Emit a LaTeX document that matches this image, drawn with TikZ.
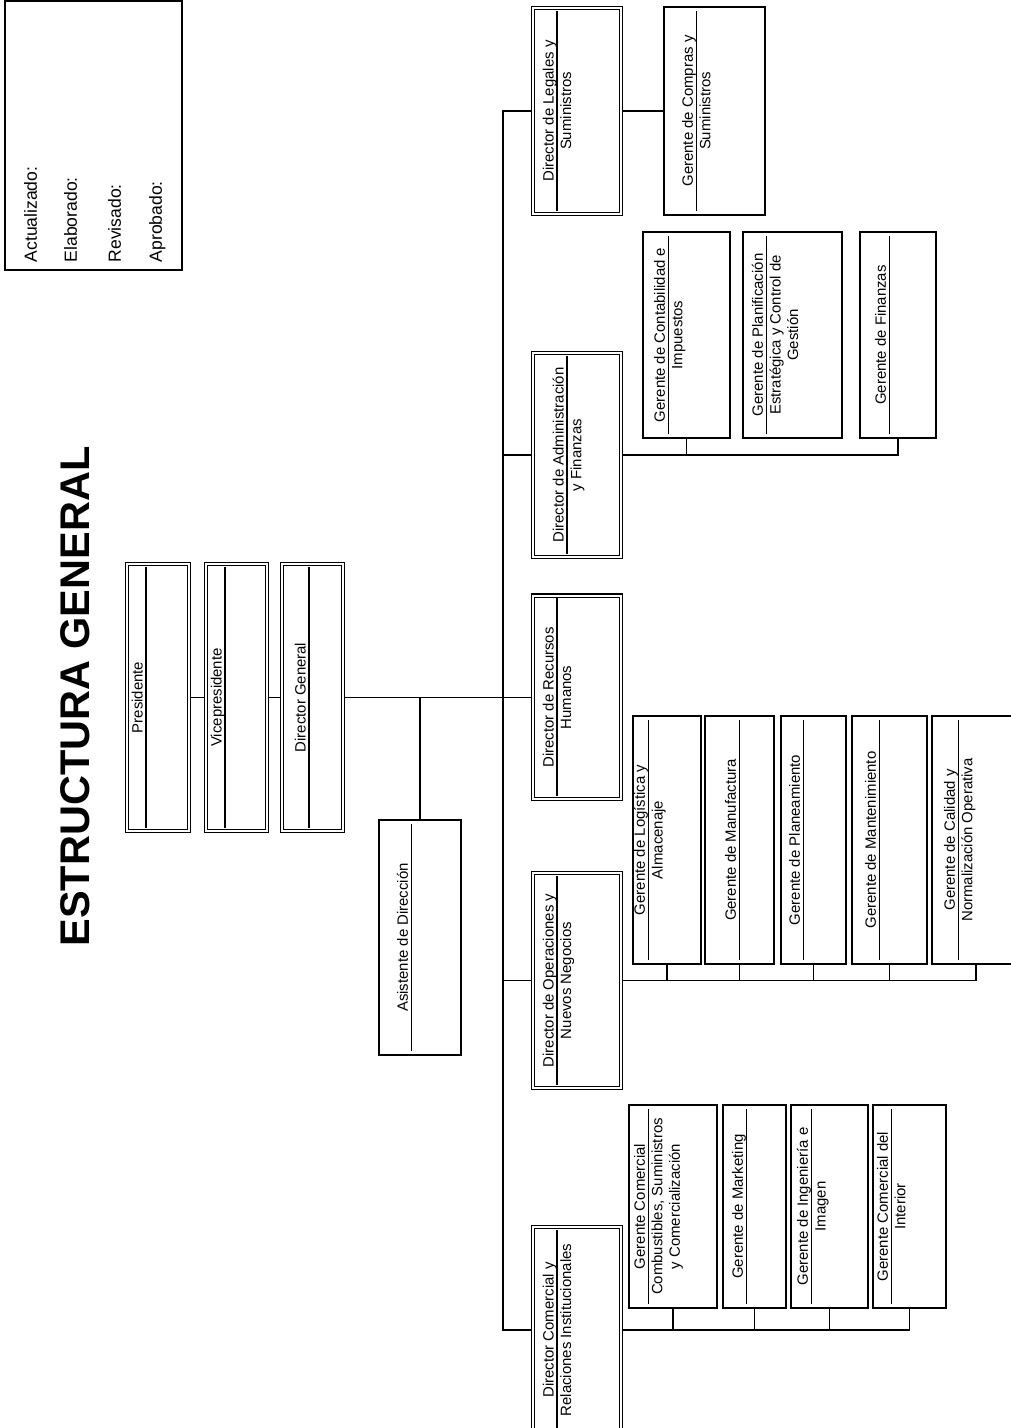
\documentclass[tikz,border=0pt]{standalone}
\usepackage{fontspec}
\setmainfont{Liberation Sans}

% caja de un puesto: estilo, nombre, posicion, ancho, alto, linea, texto
\newcommand{\puesto}[7][gerente]{%
  \node[#1, minimum width=#4*0.02cm, minimum height=#5*0.02cm] (#2) at (#3) {};
  \draw ([xshift=5*0.02cm, yshift=-#6*0.02cm]#2.north west)
    -- ([xshift=-5*0.02cm, yshift=-#6*0.02cm]#2.north east);
  \node[rotulo] at ([yshift=-(#6-15)*0.02cm]#2.north) {#7};
}

\begin{document}
\begin{tikzpicture}[
    x=0.02cm, y=0.02cm,
    line width=0.8pt,
    gerente/.style={rectangle, draw, fill=white, inner sep=0pt},
    director/.style={gerente, double, double distance=1.3pt, line width=0.6pt, outer sep=1.25pt},
    rotulo/.style={font=\fontsize{8.5}{10}\selectfont, align=center, inner sep=0pt, anchor=north},
    dato/.style={font=\fontsize{10}{12}\selectfont, inner sep=0pt, anchor=base west}
  ]
  \begin{scope}[rotate=90, transform shape]
    \useasboundingbox (0,0) rectangle (1428,1011);

    \node[font=\bfseries\fontsize{23.6}{28}\selectfont] (titulo) at (731.5,936) {ESTRUCTURA GENERAL};

    \node[draw, inner sep=0pt, minimum width=269*0.02cm, minimum height=177*0.02cm] (datos) at (1292.5,917.5) {};
    \node[dato] (actualizado) at (1165,974) {Actualizado:};
    \node[dato] (elaborado) at (1165,934) {Elaborado:};
    \node[dato] (revisado) at (1165,890) {Revisado:};
    \node[dato] (aprobado) at (1165,849) {Aprobado:};

    \puesto[director]{presidente}{730.5,853}{266.6}{61.6}{21}{Presidente}
    \puesto[director]{vicepresidente}{730.5,774.5}{266.6}{60.6}{21}{Vicepresidente}
    \puesto[director]{general}{730.5,698.5}{266.6}{60.6}{29}{Director General}
    \puesto{asistente}{490.5,591}{235}{82}{33}{Asistente de Dirección}

    \puesto[director]{legales}{1317,434}{205.6}{87.6}{26}{Director de Legales y\\Suministros}
    \puesto[director]{admin}{973,434}{203.6}{87.6}{36}{Director de Administración\\y Finanzas}
    \puesto[director]{rrhh}{730.5,434}{203.6}{87.6}{26}{Director de Recursos\\Humanos}
    \puesto[director]{operaciones}{447.5,434}{214.6}{87.6}{26}{Director de Operaciones y\\Nuevos Negocios}
    \puesto[director]{comercial}{98,434}{205.6}{87.6}{26}{Director Comercial y\\Relaciones Institucionales}

    \puesto{compras}{1317,296.5}{208}{101}{33}{Gerente de Compras y\\Suministros}
    \puesto{contabilidad}{1093,324.5}{206}{87}{26}{Gerente de Contabilidad e\\Impuestos}
    \puesto{planificacion}{1093,218.5}{206}{99}{24}{Gerente de Planificación\\Estratégica y Control de\\Gestión}
    \puesto{finanzas}{1093,113}{206}{76}{30}{Gerente de Finanzas}

    \puesto{logistica}{588,344}{248}{68}{16}{Gerente de Logística y\\Almacenaje}
    \puesto{manufactura}{588,271.5}{248}{69}{35}{Gerente de Manufactura}
    \puesto{planeamiento}{588,197.5}{248}{65}{23}{Gerente de Planeamiento}
    \puesto{mantenimiento}{588,121.5}{248}{75}{28}{Gerente de Mantenimiento}
    \puesto{calidad}{588,35}{248}{88}{27}{Gerente de Calidad y\\Normalización Operativa}

    \puesto{combustibles}{221.5,338}{203}{88}{20}{Gerente Comercial\\Combustibles, Suministros\\y Comercialización}
    \puesto{marketing}{221.5,256.5}{203}{63}{24}{Gerente de Marketing}
    \puesto{ingenieria}{221.5,181.5}{203}{77}{21}{Gerente de Ingeniería e\\Imagen}
    \puesto{interior}{221.5,101.5}{203}{73}{19}{Gerente Comercial del\\Interior}

    \draw (presidente.south) -- (vicepresidente.north);
    \draw (vicepresidente.south) -- (general.north);
    \draw (general.south) -- (rrhh.north);
    \draw (asistente.east) -- (general |- asistente.east);

    \draw (legales.north) -- ++(0,28) -| (comercial.north);
    \draw (admin.north) -- ++(0,28);
    \draw (operaciones.north) -- ++(0,28);

    \draw (legales.south) -- (compras.north);
    \draw (admin.south) |- (finanzas.west);
    \draw (contabilidad.west) -- (admin.south |- contabilidad.west);
    \draw (operaciones.south) |- (calidad.west);
    \foreach \g in {logistica,manufactura,planeamiento,mantenimiento}
      \draw (\g.west) -- (operaciones.south |- \g.west);
    \draw (comercial.south) |- (interior.west);
    \foreach \g in {combustibles,marketing,ingenieria}
      \draw (\g.west) -- (comercial.south |- \g.west);
  \end{scope}
\end{tikzpicture}
\end{document}
